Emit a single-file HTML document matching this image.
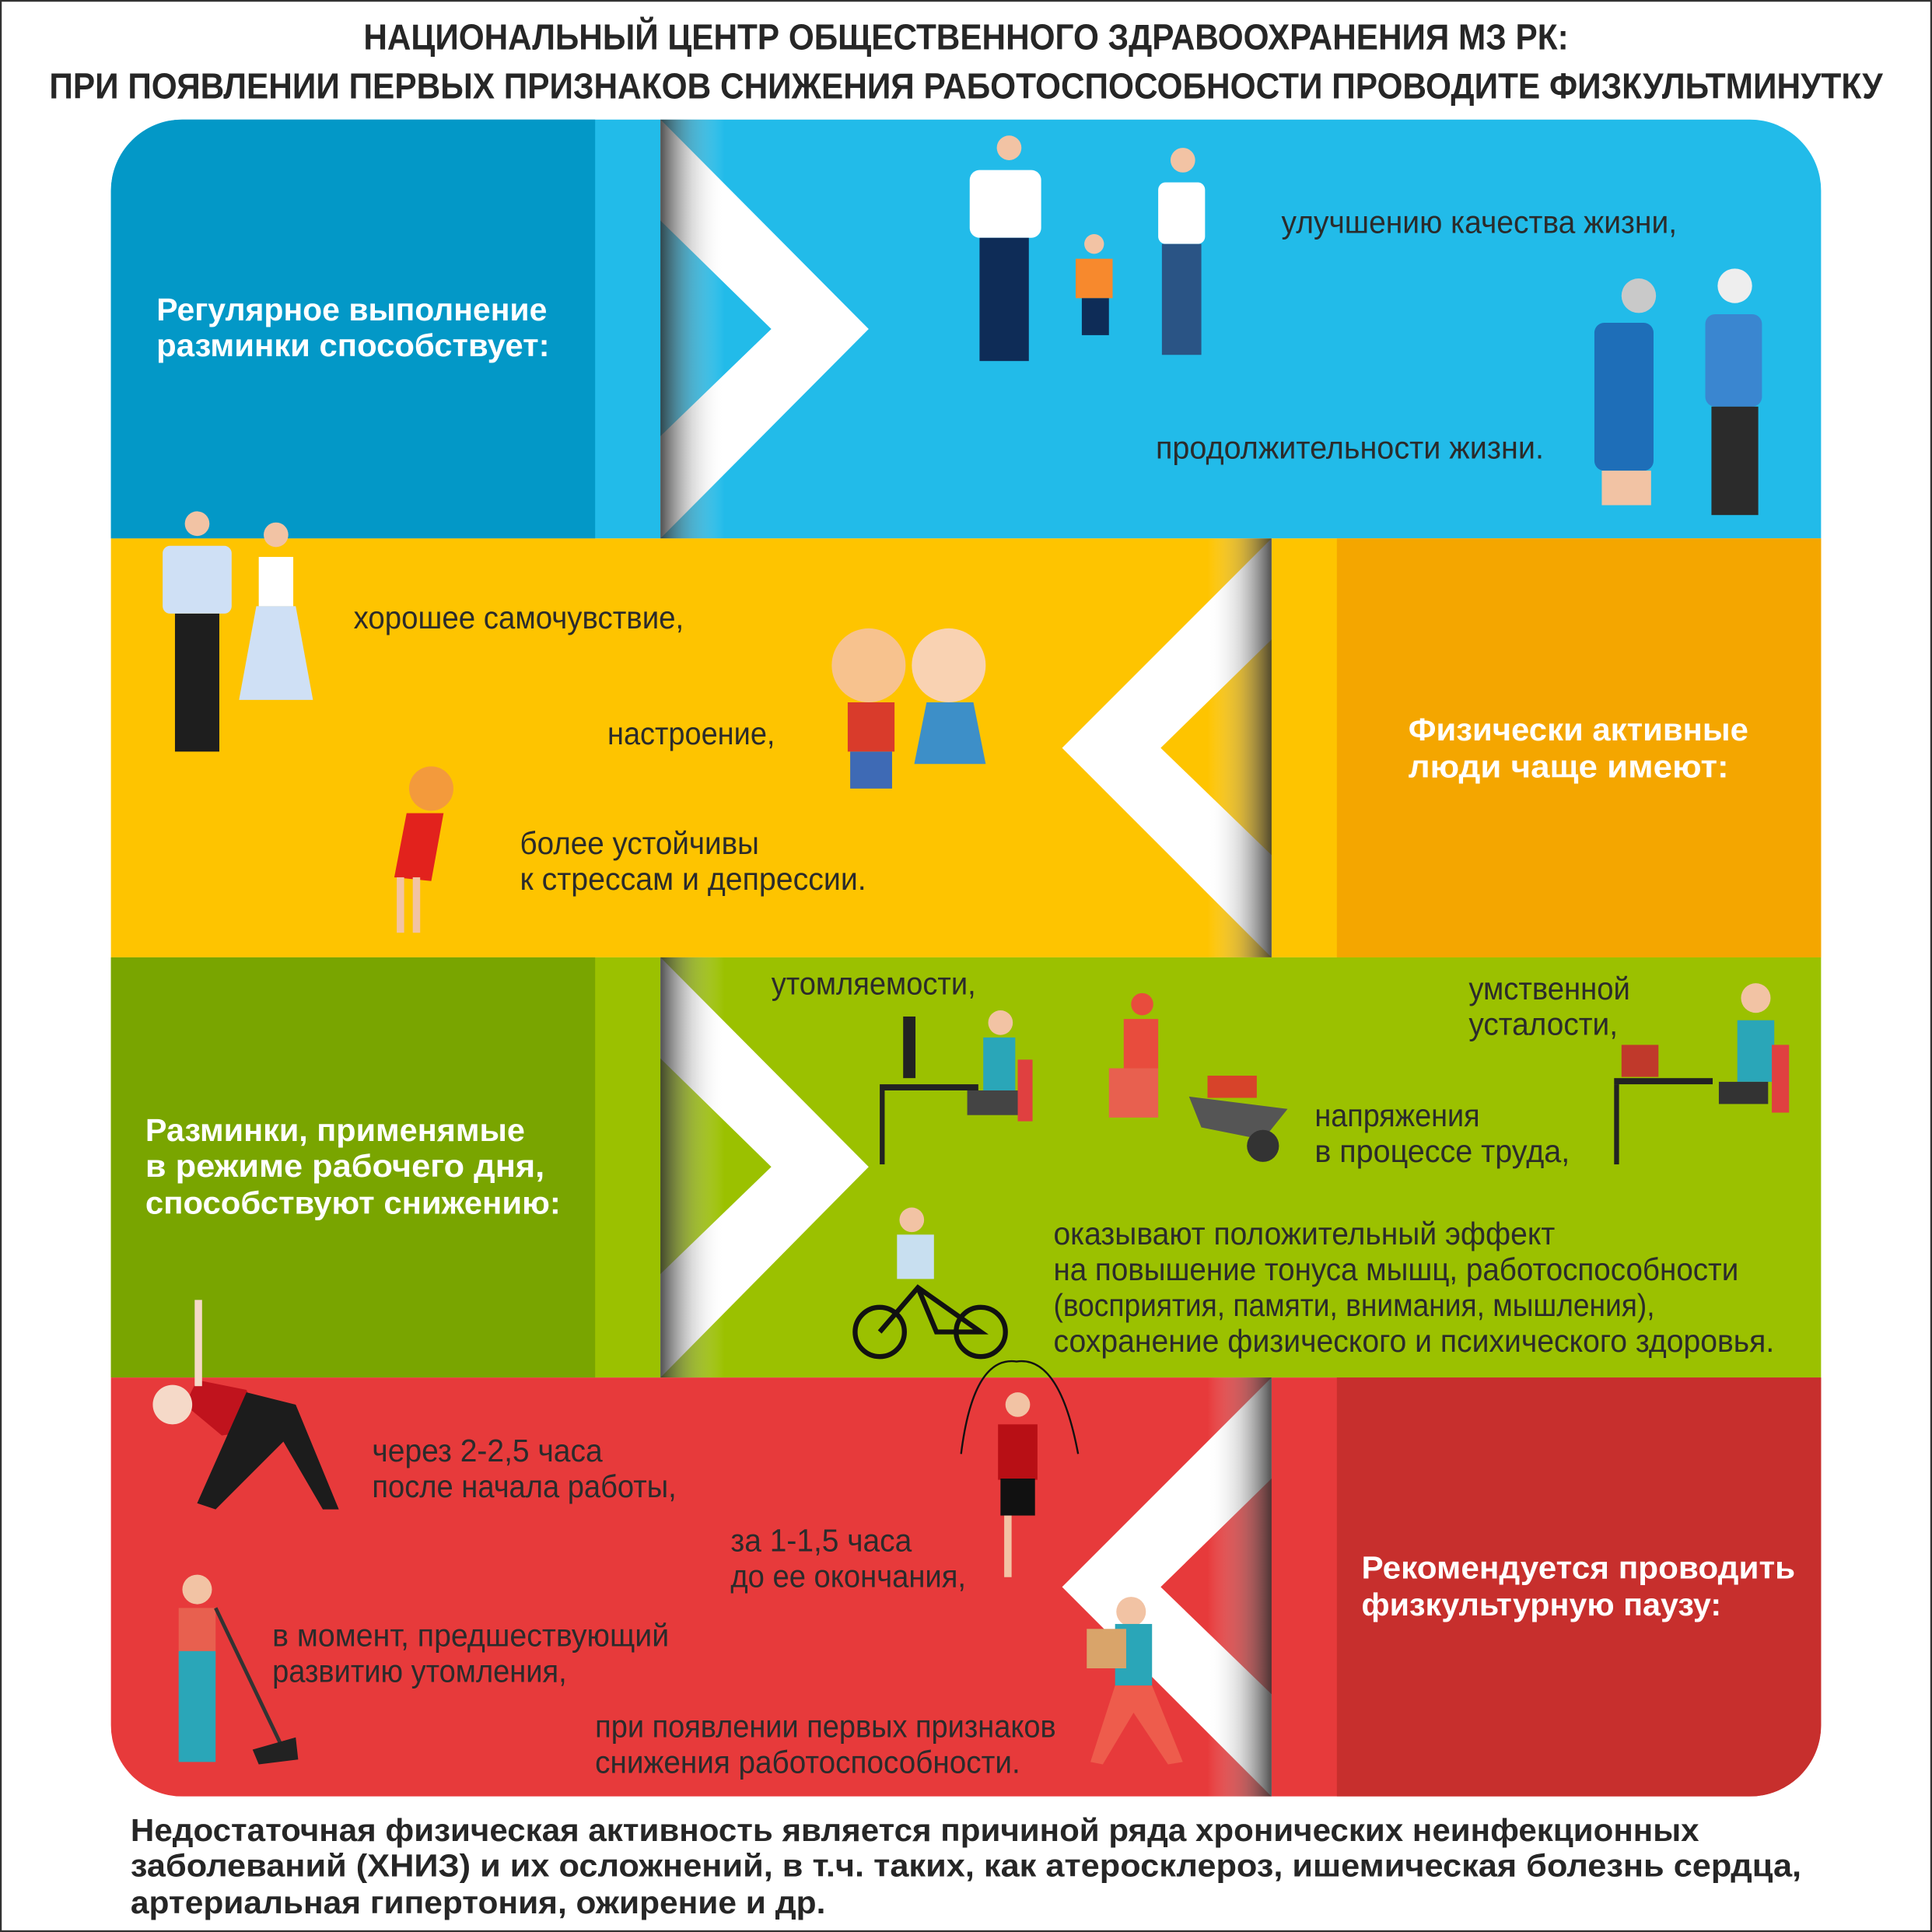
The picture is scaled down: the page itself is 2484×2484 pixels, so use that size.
<!DOCTYPE html>
<html><head><meta charset="utf-8"><style>
html,body{margin:0;padding:0;background:#fff}
svg{display:block}
.t{font-family:"Liberation Sans",sans-serif;fill:#2b2b2b;font-size:26px}
.b{font-family:"Liberation Sans",sans-serif;font-weight:bold;fill:#fff;font-size:26px}
.h{font-family:"Liberation Sans",sans-serif;font-weight:bold;fill:#262626;font-size:29px}
.f{font-family:"Liberation Sans",sans-serif;font-weight:bold;fill:#262626;font-size:26px}
</style></head><body>
<svg width="2484" height="2484" viewBox="0 0 1568 1568" xmlns="http://www.w3.org/2000/svg">
<defs>
<clipPath id="cp"><rect x="90" y="97" width="1388" height="1361" rx="58"/></clipPath>
<linearGradient id="gl" x1="0" x2="1" y1="0" y2="0">
<stop offset="0" stop-color="#333" stop-opacity="0.85"/><stop offset="0.5" stop-color="#999" stop-opacity="0.35"/><stop offset="1" stop-color="#fff" stop-opacity="0"/></linearGradient>
<linearGradient id="gr" x1="1" x2="0" y1="0" y2="0">
<stop offset="0" stop-color="#333" stop-opacity="0.85"/><stop offset="0.5" stop-color="#999" stop-opacity="0.35"/><stop offset="1" stop-color="#fff" stop-opacity="0"/></linearGradient>
</defs>
<rect x="0.7" y="0.7" width="1566.6" height="1566.6" fill="#fff" stroke="#333" stroke-width="1.4"/>
<text class="h" x="784" y="40" text-anchor="middle" textLength="978" lengthAdjust="spacingAndGlyphs">НАЦИОНАЛЬНЫЙ ЦЕНТР ОБЩЕСТВЕННОГО ЗДРАВООХРАНЕНИЯ МЗ РК:</text>
<text class="h" x="40" y="80" textLength="1488" lengthAdjust="spacingAndGlyphs">ПРИ ПОЯВЛЕНИИ ПЕРВЫХ ПРИЗНАКОВ СНИЖЕНИЯ РАБОТОСПОСОБНОСТИ ПРОВОДИТЕ ФИЗКУЛЬТМИНУТКУ</text>
<g clip-path="url(#cp)">
<!-- row1 -->
<rect x="90" y="97" width="1388" height="340" fill="#22bbe9"/>
<rect x="90" y="97" width="393" height="340" fill="#0398c7"/>
<polygon points="536,97 705,267 536,437 536,354 626,267 536,179" fill="#fff"/>
<rect x="536" y="97" width="52" height="340" fill="url(#gl)"/>
<!-- row2 -->
<rect x="90" y="437" width="1388" height="340" fill="#fec400"/>
<rect x="1085" y="437" width="393" height="340" fill="#f4a600"/>
<polygon points="1032,437 862,607 1032,777 1032,694 942,607 1032,519" fill="#fff"/>
<rect x="980" y="437" width="52" height="340" fill="url(#gr)"/>
<!-- row3 -->
<rect x="90" y="777" width="1388" height="341" fill="#9bc100"/>
<rect x="90" y="777" width="393" height="341" fill="#79a500"/>
<polygon points="536,777 705,947 536,1118 536,1034 626,947 536,859" fill="#fff"/>
<rect x="536" y="777" width="52" height="341" fill="url(#gl)"/>
<!-- row4 -->
<rect x="90" y="1118" width="1388" height="340" fill="#e73a3b"/>
<rect x="1085" y="1118" width="393" height="340" fill="#c72f2d"/>
<polygon points="1032,1118 862,1288 1032,1458 1032,1375 942,1288 1032,1200" fill="#fff"/>
<rect x="980" y="1118" width="52" height="340" fill="url(#gr)"/>
</g>
<!-- simple figures -->
<g>
<!-- family -->
<circle cx="819" cy="120" r="10" fill="#f2c3a4"/><rect x="787" y="138" width="58" height="55" rx="8" fill="#fff"/><rect x="795" y="193" width="40" height="100" fill="#0e2c57"/>
<circle cx="888" cy="198" r="8" fill="#f2c3a4"/><rect x="873" y="210" width="30" height="32" fill="#f7892d"/><rect x="878" y="242" width="22" height="30" fill="#0e2c57"/>
<circle cx="960" cy="130" r="10" fill="#f2c3a4"/><rect x="940" y="148" width="38" height="50" rx="6" fill="#fff"/><rect x="943" y="198" width="32" height="90" fill="#2a5485"/>
<!-- elderly -->
<circle cx="1330" cy="240" r="14" fill="#c9c9c9"/><rect x="1294" y="262" width="48" height="120" rx="8" fill="#1e6eb8"/><rect x="1300" y="382" width="40" height="28" fill="#f2c3a4"/>
<circle cx="1408" cy="232" r="14" fill="#eee"/><rect x="1384" y="255" width="46" height="75" rx="8" fill="#3a86d0"/><rect x="1389" y="330" width="38" height="88" fill="#2b2b2b"/>
<!-- couple -->
<circle cx="160" cy="425" r="10" fill="#f2c3a4"/><rect x="132" y="443" width="56" height="55" rx="6" fill="#cfe0f5"/><rect x="142" y="498" width="36" height="112" fill="#1e1e1e"/>
<circle cx="224" cy="434" r="10" fill="#f2c3a4"/><rect x="210" y="452" width="28" height="40" fill="#fff"/><polygon points="208,492 240,492 254,568 194,568" fill="#cfe0f5"/>
<!-- kids -->
<circle cx="705" cy="540" r="30" fill="#f7c28e"/><rect x="688" y="570" width="38" height="40" fill="#d93b2b"/><rect x="690" y="610" width="34" height="30" fill="#3e6ab5"/>
<circle cx="770" cy="540" r="30" fill="#f9d2b2"/><polygon points="752,570 790,570 800,620 742,620" fill="#3d8fc8"/>
<!-- crying woman -->
<circle cx="350" cy="640" r="18" fill="#f39a3c"/><polygon points="330,660 360,660 350,715 320,712" fill="#e2221d"/><rect x="322" y="712" width="6" height="45" fill="#f2c3a4"/><rect x="335" y="712" width="6" height="45" fill="#f2c3a4"/>
<!-- office man -->
<rect x="733" y="825" width="10" height="50" fill="#222"/><rect x="714" y="880" width="80" height="5" fill="#222"/><rect x="714" y="885" width="4" height="60" fill="#222"/>
<circle cx="812" cy="830" r="10" fill="#f2c3a4"/><rect x="798" y="842" width="26" height="45" fill="#2aa6b8"/><rect x="785" y="885" width="45" height="20" fill="#444"/><rect x="826" y="860" width="12" height="50" fill="#e04040"/>
<!-- wheelbarrow -->
<circle cx="927" cy="815" r="9" fill="#e84c3d"/><rect x="912" y="827" width="28" height="40" fill="#e84c3d"/><rect x="900" y="867" width="40" height="40" fill="#e8604f"/>
<polygon points="965,890 1045,900 1025,925 975,915" fill="#555"/><circle cx="1025" cy="930" r="13" fill="#333"/><rect x="980" y="873" width="40" height="18" fill="#d7432a"/>
<!-- woman desk -->
<rect x="1310" y="875" width="80" height="5" fill="#222"/><rect x="1310" y="880" width="4" height="65" fill="#222"/><rect x="1316" y="848" width="30" height="26" fill="#c0392b"/>
<circle cx="1425" cy="810" r="12" fill="#f2c3a4"/><rect x="1410" y="828" width="30" height="50" fill="#2aa6b8"/><rect x="1395" y="878" width="40" height="18" fill="#333"/><rect x="1438" y="848" width="14" height="55" fill="#e04040"/>
<!-- cyclist -->
<circle cx="714" cy="1081" r="20" fill="none" stroke="#111" stroke-width="4"/><circle cx="796" cy="1081" r="20" fill="none" stroke="#111" stroke-width="4"/>
<polyline points="714,1081 745,1045 796,1081 760,1081 745,1045" fill="none" stroke="#111" stroke-width="4"/>
<circle cx="740" cy="990" r="10" fill="#f2c3a4"/><rect x="728" y="1002" width="30" height="36" fill="#c8dff0"/>
<!-- stretch woman -->
<polygon points="160,1120 200,1128 215,1160 180,1165 150,1140" fill="#c0131d"/><polygon points="200,1130 240,1140 275,1225 262,1225 230,1170 175,1225 160,1220" fill="#1c1c1c"/>
<circle cx="140" cy="1140" r="16" fill="#f5d9c8"/><rect x="158" y="1055" width="6" height="70" fill="#f5d9c8"/>
<!-- rope woman -->
<path d="M780,1180 Q790,1100 825,1105 Q860,1100 875,1180" fill="none" stroke="#111" stroke-width="1.5"/>
<circle cx="826" cy="1140" r="10" fill="#f2c3a4"/><rect x="810" y="1156" width="32" height="45" fill="#b80f15"/><rect x="812" y="1200" width="28" height="30" fill="#111"/><rect x="815" y="1230" width="6" height="50" fill="#f2c3a4"/>
<!-- sweeper -->
<circle cx="160" cy="1290" r="12" fill="#f2c3a4"/><rect x="145" y="1305" width="30" height="50" fill="#e8604f"/><rect x="145" y="1340" width="30" height="90" fill="#2aa6b8"/>
<line x1="175" y1="1305" x2="230" y2="1420" stroke="#333" stroke-width="3"/><polygon points="205,1420 240,1410 242,1428 210,1432" fill="#222"/>
<!-- box man -->
<circle cx="918" cy="1308" r="12" fill="#f2c3a4"/><rect x="905" y="1318" width="30" height="50" fill="#2aa6b8"/><rect x="882" y="1322" width="32" height="32" fill="#d9a46a"/>
<polygon points="905,1368 935,1368 960,1430 948,1432 920,1390 895,1432 885,1430" fill="#ee5c4c"/>
</g>
<!-- row1 text -->
<text class="b" x="127" y="260" textLength="317" lengthAdjust="spacingAndGlyphs">Регулярное выполнение</text>
<text class="b" x="127" y="289" textLength="319" lengthAdjust="spacingAndGlyphs">разминки способствует:</text>
<text class="t" x="1040" y="189" textLength="321" lengthAdjust="spacingAndGlyphs">улучшению качества жизни,</text>
<text class="t" x="938" y="372" textLength="315" lengthAdjust="spacingAndGlyphs">продолжительности жизни.</text>
<!-- row2 text -->
<text class="t" x="287" y="510" textLength="268" lengthAdjust="spacingAndGlyphs">хорошее самочувствие,</text>
<text class="t" x="493" y="604" textLength="136" lengthAdjust="spacingAndGlyphs">настроение,</text>
<text class="t" x="422" y="693" textLength="194" lengthAdjust="spacingAndGlyphs">более устойчивы</text>
<text class="t" x="422" y="722" textLength="281" lengthAdjust="spacingAndGlyphs">к стрессам и депрессии.</text>
<text class="b" x="1143" y="601" textLength="276" lengthAdjust="spacingAndGlyphs">Физически активные</text>
<text class="b" x="1143" y="631" textLength="260" lengthAdjust="spacingAndGlyphs">люди чаще имеют:</text>
<!-- row3 text -->
<text class="t" x="626" y="807" textLength="166" lengthAdjust="spacingAndGlyphs">утомляемости,</text>
<text class="t" x="1192" y="811" textLength="131" lengthAdjust="spacingAndGlyphs">умственной</text>
<text class="t" x="1192" y="840" textLength="121" lengthAdjust="spacingAndGlyphs">усталости,</text>
<text class="t" x="1067" y="914" textLength="134" lengthAdjust="spacingAndGlyphs">напряжения</text>
<text class="t" x="1067" y="943" textLength="207" lengthAdjust="spacingAndGlyphs">в процессе труда,</text>
<text class="t" x="855" y="1010" textLength="407" lengthAdjust="spacingAndGlyphs">оказывают положительный эффект</text>
<text class="t" x="855" y="1039" textLength="556" lengthAdjust="spacingAndGlyphs">на повышение тонуса мышц, работоспособности</text>
<text class="t" x="855" y="1068" textLength="488" lengthAdjust="spacingAndGlyphs">(восприятия, памяти, внимания, мышления),</text>
<text class="t" x="855" y="1097" textLength="585" lengthAdjust="spacingAndGlyphs">сохранение физического и психического здоровья.</text>
<text class="b" x="118" y="926" textLength="308" lengthAdjust="spacingAndGlyphs">Разминки, применямые</text>
<text class="b" x="118" y="955" textLength="324" lengthAdjust="spacingAndGlyphs">в режиме рабочего дня,</text>
<text class="b" x="118" y="985" textLength="337" lengthAdjust="spacingAndGlyphs">способствуют снижению:</text>
<!-- row4 text -->
<text class="t" x="302" y="1186" textLength="187" lengthAdjust="spacingAndGlyphs">через 2-2,5 часа</text>
<text class="t" x="302" y="1215" textLength="247" lengthAdjust="spacingAndGlyphs">после начала работы,</text>
<text class="t" x="593" y="1259" textLength="147" lengthAdjust="spacingAndGlyphs">за 1-1,5 часа</text>
<text class="t" x="593" y="1288" textLength="191" lengthAdjust="spacingAndGlyphs">до ее окончания,</text>
<text class="t" x="221" y="1336" textLength="322" lengthAdjust="spacingAndGlyphs">в момент, предшествующий</text>
<text class="t" x="221" y="1365" textLength="239" lengthAdjust="spacingAndGlyphs">развитию утомления,</text>
<text class="t" x="483" y="1410" textLength="374" lengthAdjust="spacingAndGlyphs">при появлении первых признаков</text>
<text class="t" x="483" y="1439" textLength="345" lengthAdjust="spacingAndGlyphs">снижения работоспособности.</text>
<text class="b" x="1105" y="1281" textLength="352" lengthAdjust="spacingAndGlyphs">Рекомендуется проводить</text>
<text class="b" x="1105" y="1311" textLength="292" lengthAdjust="spacingAndGlyphs">физкультурную паузу:</text>
<!-- footer -->
<text class="f" x="106" y="1494" textLength="1273" lengthAdjust="spacingAndGlyphs">Недостаточная физическая активность является причиной ряда хронических неинфекционных</text>
<text class="f" x="106" y="1523" textLength="1356" lengthAdjust="spacingAndGlyphs">заболеваний (ХНИЗ) и их осложнений, в т.ч. таких, как атеросклероз, ишемическая болезнь сердца,</text>
<text class="f" x="106" y="1553" textLength="564" lengthAdjust="spacingAndGlyphs">артериальная гипертония, ожирение и др.</text>
</svg>
</body></html>
